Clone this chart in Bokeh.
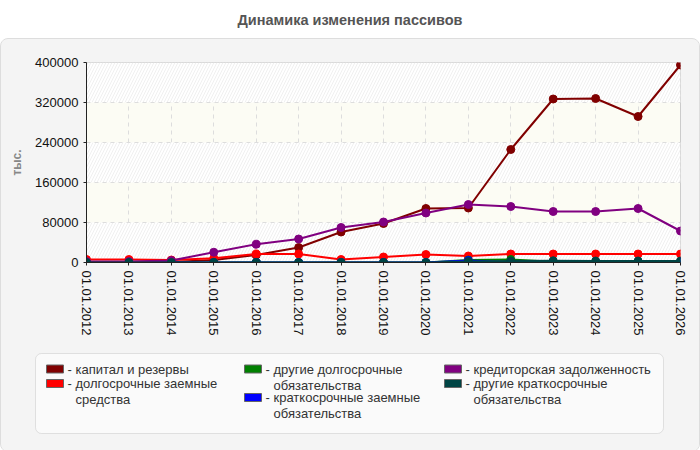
from bokeh.plotting import figure
from bokeh.models import Range1d, FixedTicker, Div, BoxAnnotation
from bokeh.layouts import column
from bokeh.core.properties import value
from bokeh.embed import file_html
from bokeh.resources import INLINE

title = "Динамика изменения пассивов"
y_label = "тыс."
years = list(range(2012, 2027))
date_labels = ["01.01.%d" % y for y in years]
y_ticks = [0, 80000, 160000, 240000, 320000, 400000]

kapital = [0, 0, 1000, 5000, 15000, 30000, 61000, 78000, 108000, 109000, 226000, 327000, 328000, 292000, 395000]
dolg_zaem = [6000, 6000, 5000, 8500, 17000, 17000, 6000, 11000, 16000, 13000, 17000, 17000, 17000, 17000, 17000]
drugie_dolg = [0, 0, 0, 0, 0, 0, 0, 0, 0, 5000, 6000, 1500, 1000, 1000, 1000]
kratk_zaem = [0, 0, 0, 0, 0, 0, 0, 0, 0, 4000, 500, 500, 1000, 1000, 1000]
kreditor = [2000, 2000, 4000, 20500, 36500, 47000, 70000, 81000, 99000, 116000, 112000, 102000, 102000, 108000, 63000]
drugie_kratk = [0, 0, 0, 0, 0, 0, 0, 0, 0, 2000, 3000, 3500, 3000, 3000, 3000]

series_names = [
    "капитал и резервы",
    "долгосрочные заемные\nсредства",
    "другие долгосрочные\nобязательства",
    "краткосрочные заемные\nобязательства",
    "кредиторская задолженность",
    "другие краткосрочные\nобязательства",
]
series_values = [kapital, dolg_zaem, drugie_dolg, kratk_zaem, kreditor, drugie_kratk]
series_colors = ["#800000", "#ff0000", "#008000", "#0000ff", "#800080", "#004444"]

FONT = "Liberation Sans"
PANEL = "#f4f4f4"

title_div = Div(
    text=title, width=700, height=38, margin=0,
    styles={"font-family": FONT, "font-weight": "bold", "font-size": "14.5px",
            "color": "#555555", "text-align": "center", "width": "700px",
            "line-height": "40px"},
)

p = figure(width=698, height=307, output_backend="svg", toolbar_location=None,
           x_range=Range1d(years[0], years[-1]), y_range=Range1d(0, 400000),
           min_border_left=85, min_border_right=19, min_border_top=23, min_border_bottom=84)
p.border_fill_color = PANEL
p.background_fill_color = "#fcfcf4"
p.outline_line_color = "#cccccc"

p.xaxis.ticker = FixedTicker(ticks=years)
p.xaxis.major_label_overrides = {y: l for y, l in zip(years, date_labels)}
p.xaxis.major_label_orientation = "vertical"
p.yaxis.ticker = FixedTicker(ticks=y_ticks)
p.yaxis.major_label_overrides = {t: str(t) for t in y_ticks}
for ax in (p.xaxis[0], p.yaxis[0]):
    ax.major_label_text_font = FONT
    ax.major_label_text_font_size = "13px"
    ax.major_label_text_color = "#111111"
    ax.axis_line_color = "#222222"
    ax.major_tick_line_color = "#222222"
    ax.major_tick_in = 0
    ax.major_tick_out = 3
    ax.minor_tick_line_color = None
p.yaxis.axis_label = y_label
p.yaxis.axis_label_text_font = FONT
p.yaxis.axis_label_text_font_size = "12px"
p.yaxis.axis_label_text_font_style = "bold"
p.yaxis.axis_label_text_color = "#888888"
p.yaxis.axis_label_standoff = 8

for g in (p.xgrid[0], p.ygrid[0]):
    g.grid_line_color = "#dddddd"
    g.grid_line_dash = "4 4"
# extra tick at 1 shifts the alternating band pattern so the hatched bands start at 0
p.ygrid.ticker = FixedTicker(ticks=[0, 1] + y_ticks[1:])
p.ygrid.band_fill_color = "#ffffff"
p.ygrid.band_fill_alpha = 1.0
p.ygrid.band_hatch_pattern = "/"
p.ygrid.band_hatch_color = "#f0f0f0"
p.ygrid.band_hatch_scale = 6
p.ygrid.band_hatch_weight = 1

for vals, col in zip(series_values, series_colors):
    p.line(years, vals, line_color=col, line_width=2)
    p.scatter(years, vals, size=8, fill_color=col, line_color=col)

# legend panel (coordinates in screen pixels of this panel)
leg = figure(width=698, height=105, output_backend="svg", toolbar_location=None,
             x_range=Range1d(0, 698), y_range=Range1d(0, 105), min_border=0)
leg.frame_align = False
leg.border_fill_color = PANEL
leg.background_fill_color = PANEL
leg.outline_line_color = None
leg.axis.visible = False
leg.grid.visible = False
leg.add_layout(BoxAnnotation(left=34, right=662, bottom=18, top=98, level="underlay",
                             fill_color="#fafafa", fill_alpha=1, line_color="#aaaaaa",
                             line_width=1, border_radius=6))

col_x = [45, 45, 243, 243, 443, 443]
row_idx = [0, 1, 0, 2, 0, 1]
row_y = [82.5, 68, 54, 40]
for name, col, cx, ri in zip(series_names, series_colors, col_x, row_idx):
    yy = row_y[ri]
    leg.rect([cx + 8.5], [yy], width=17, height=8, width_units="screen", height_units="screen",
             fill_color=col, line_color="#666666", line_width=1)
    leg.text([cx + 21], [yy], text=["-"], text_font=value(FONT), text_font_size="13px",
             text_color="#333333", text_baseline="middle")
    leg.text([cx + 29], [yy + 7.5], text=[name], text_font=value(FONT), text_font_size="13px",
             text_color="#333333", text_baseline="top", text_line_height=1.08)

panel = column(p, leg, spacing=0,
               styles={"background": PANEL, "border": "1px solid #dddddd",
                       "border-radius": "8px", "overflow": "hidden"})
layout = column(title_div, panel, spacing=0)
open("out.html", "w").write(file_html(layout, INLINE))
